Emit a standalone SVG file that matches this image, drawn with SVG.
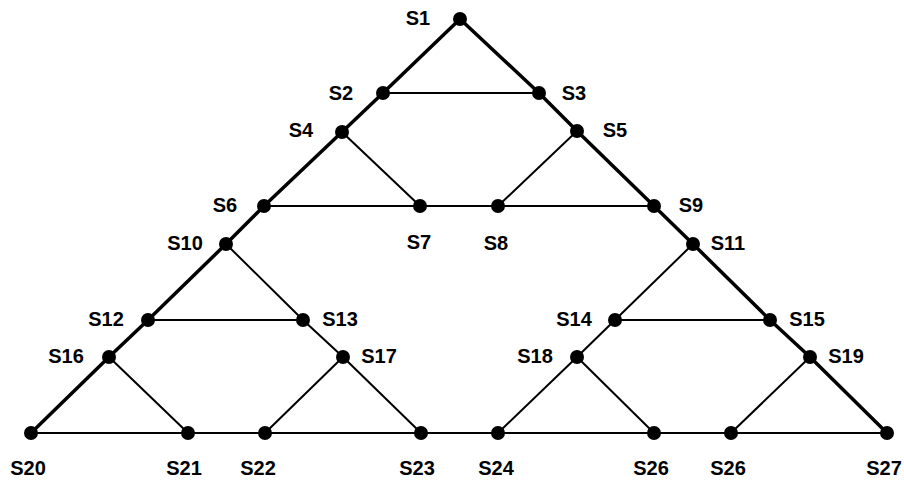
<svg xmlns="http://www.w3.org/2000/svg" width="904" height="481" viewBox="0 0 904 481">
<style>
.e{stroke:#000;stroke-width:2;stroke-linecap:round;fill:none}
.t{stroke-width:3.5}
.n circle{fill:#000}
text{font-family:"Liberation Sans",Arial,sans-serif;font-size:20px;font-weight:bold;fill:#000;text-anchor:middle}
</style>
<rect width="904" height="481" fill="#fff"/>
<g id="connectors">
<line class="e" x1="383" y1="93" x2="539" y2="93"/>
<line class="e t" x1="460" y1="19" x2="383" y2="93"/>
<line class="e t" x1="460" y1="19" x2="539" y2="93"/>
<line class="e t" x1="383" y1="93" x2="342" y2="132"/>
<line class="e t" x1="539" y1="93" x2="577" y2="131"/>
<line class="e t" x1="342" y1="132" x2="264" y2="206"/>
<line class="e" x1="342" y1="132" x2="420" y2="206"/>
<line class="e" x1="577" y1="131" x2="498" y2="206"/>
<line class="e t" x1="577" y1="131" x2="654" y2="206"/>
<line class="e" x1="264" y1="206" x2="654" y2="206"/>
<line class="e t" x1="264" y1="206" x2="226" y2="244"/>
<line class="e t" x1="654" y1="206" x2="693" y2="244"/>
<line class="e t" x1="226" y1="244" x2="148" y2="320"/>
<line class="e" x1="226" y1="244" x2="303" y2="320"/>
<line class="e" x1="148" y1="320" x2="303" y2="320"/>
<line class="e" x1="693" y1="244" x2="615" y2="320"/>
<line class="e t" x1="693" y1="244" x2="770" y2="320"/>
<line class="e" x1="615" y1="320" x2="770" y2="320"/>
<line class="e t" x1="148" y1="320" x2="109" y2="357"/>
<line class="e" x1="303" y1="320" x2="343" y2="357"/>
<line class="e" x1="615" y1="320" x2="577" y2="357"/>
<line class="e t" x1="770" y1="320" x2="810" y2="357"/>
<line class="e t" x1="109" y1="357" x2="31" y2="433"/>
<line class="e" x1="109" y1="357" x2="188" y2="433"/>
<line class="e" x1="343" y1="357" x2="265" y2="433"/>
<line class="e" x1="343" y1="357" x2="421" y2="433"/>
<line class="e" x1="577" y1="357" x2="498" y2="433"/>
<line class="e" x1="577" y1="357" x2="654" y2="433"/>
<line class="e" x1="810" y1="357" x2="731" y2="433"/>
<line class="e t" x1="810" y1="357" x2="887" y2="433"/>
<line class="e" x1="31" y1="433" x2="887" y2="433"/>
</g>
<g id="S1" class="n"><circle cx="460" cy="19" r="7"/><text x="418" y="25">S1</text></g>
<g id="S2" class="n"><circle cx="383" cy="93" r="7"/><text x="341" y="100">S2</text></g>
<g id="S3" class="n"><circle cx="539" cy="93" r="7"/><text x="574" y="100">S3</text></g>
<g id="S4" class="n"><circle cx="342" cy="132" r="7"/><text x="301" y="137">S4</text></g>
<g id="S5" class="n"><circle cx="577" cy="131" r="7"/><text x="615" y="137">S5</text></g>
<g id="S6" class="n"><circle cx="264" cy="206" r="7"/><text x="225" y="212">S6</text></g>
<g id="S7" class="n"><circle cx="420" cy="206" r="7"/><text x="419" y="249">S7</text></g>
<g id="S8" class="n"><circle cx="498" cy="206" r="7"/><text x="496" y="250">S8</text></g>
<g id="S9" class="n"><circle cx="654" cy="206" r="7"/><text x="691" y="212">S9</text></g>
<g id="S10" class="n"><circle cx="226" cy="244" r="7"/><text x="185" y="250">S10</text></g>
<g id="S11" class="n"><circle cx="693" cy="244" r="7"/><text x="728" y="250">S11</text></g>
<g id="S12" class="n"><circle cx="148" cy="320" r="7"/><text x="106" y="326">S12</text></g>
<g id="S13" class="n"><circle cx="303" cy="320" r="7"/><text x="340" y="326">S13</text></g>
<g id="S14" class="n"><circle cx="615" cy="320" r="7"/><text x="574" y="326">S14</text></g>
<g id="S15" class="n"><circle cx="770" cy="320" r="7"/><text x="807" y="326">S15</text></g>
<g id="S16" class="n"><circle cx="109" cy="357" r="7"/><text x="66" y="363">S16</text></g>
<g id="S17" class="n"><circle cx="343" cy="357" r="7"/><text x="379" y="363">S17</text></g>
<g id="S18" class="n"><circle cx="577" cy="357" r="7"/><text x="535" y="363">S18</text></g>
<g id="S19" class="n"><circle cx="810" cy="357" r="7"/><text x="846" y="363">S19</text></g>
<g id="S20" class="n"><circle cx="31" cy="433" r="7"/><text x="28" y="475">S20</text></g>
<g id="S21" class="n"><circle cx="188" cy="433" r="7"/><text x="184" y="475">S21</text></g>
<g id="S22" class="n"><circle cx="265" cy="433" r="7"/><text x="258" y="475">S22</text></g>
<g id="S23" class="n"><circle cx="421" cy="433" r="7"/><text x="417" y="475">S23</text></g>
<g id="S24" class="n"><circle cx="498" cy="433" r="7"/><text x="496" y="475">S24</text></g>
<g id="S26a" class="n"><circle cx="654" cy="433" r="7"/><text x="651" y="475">S26</text></g>
<g id="S26b" class="n"><circle cx="731" cy="433" r="7"/><text x="728" y="475">S26</text></g>
<g id="S27" class="n"><circle cx="887" cy="433" r="7"/><text x="884" y="475">S27</text></g>
</svg>
